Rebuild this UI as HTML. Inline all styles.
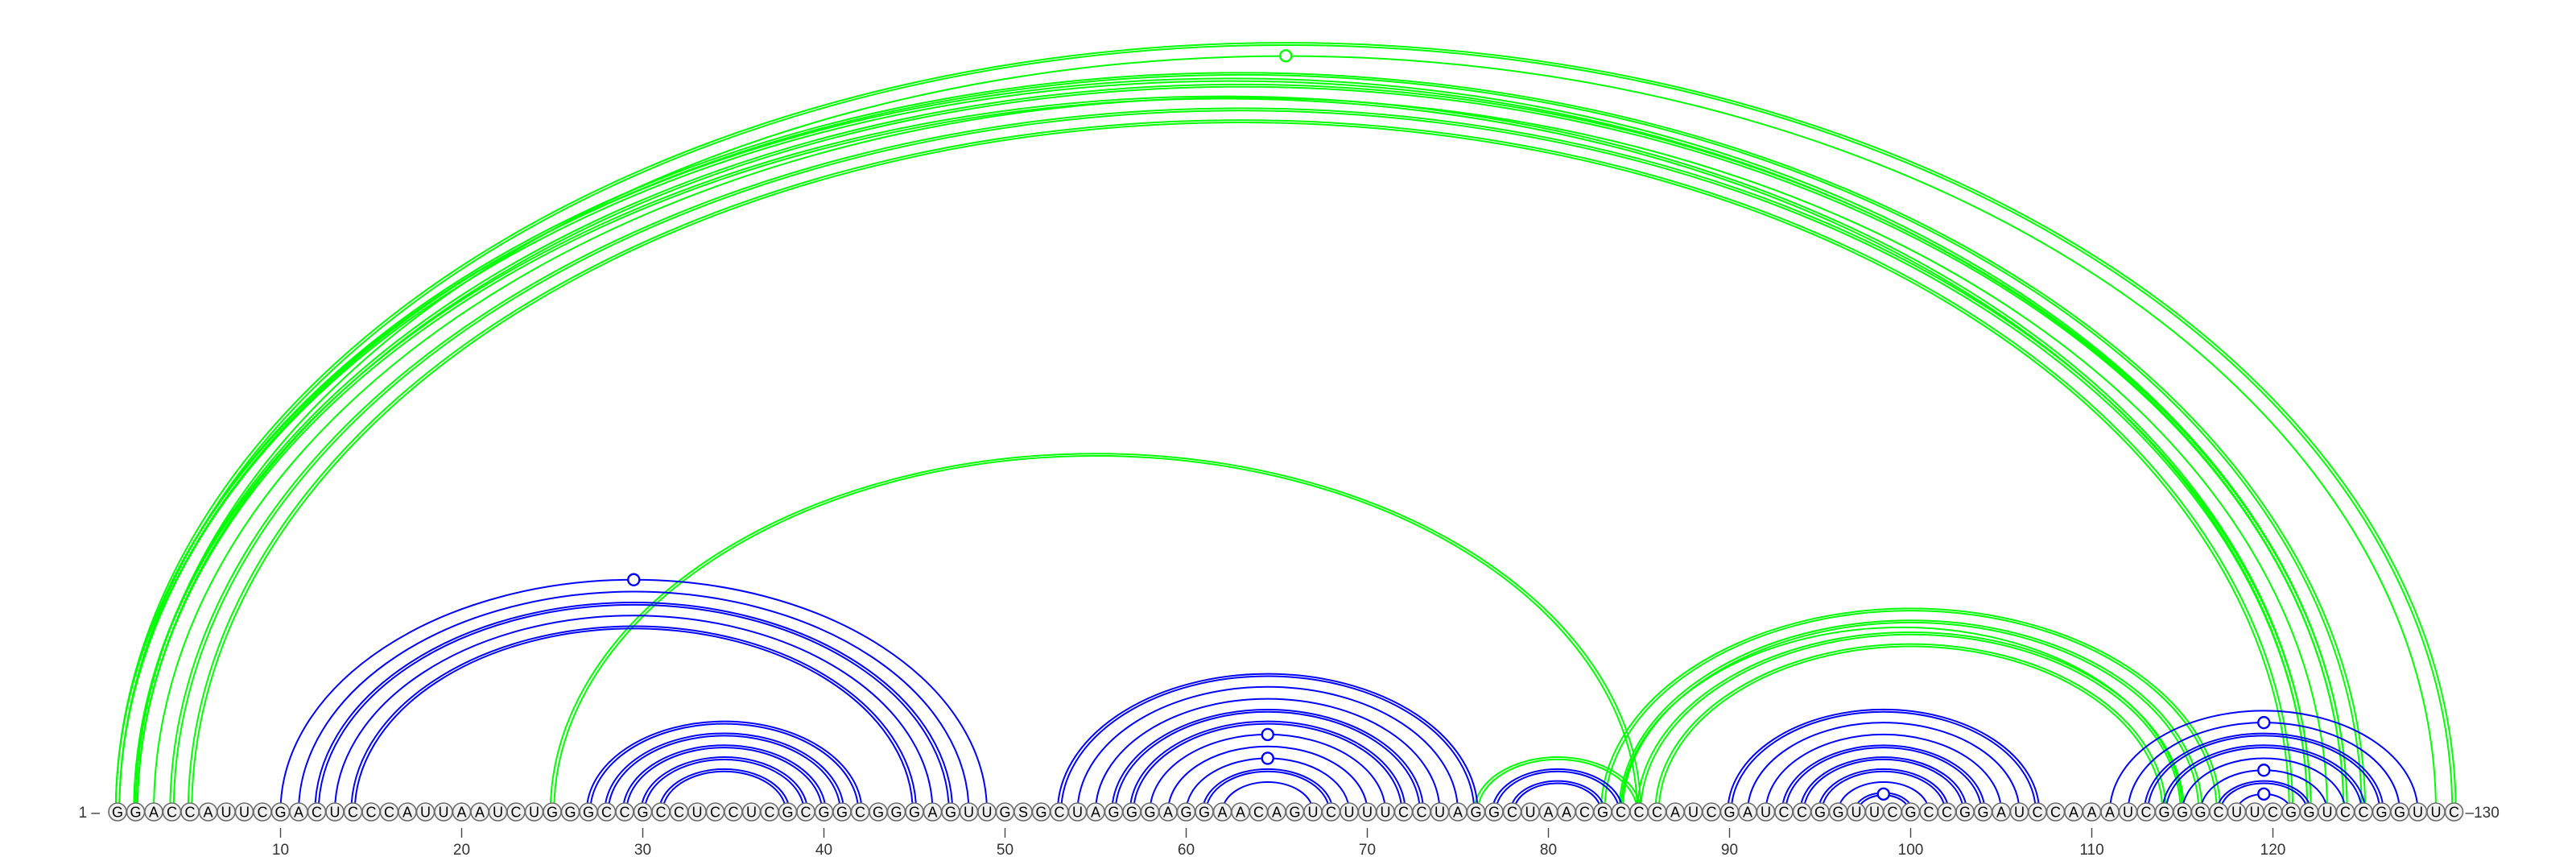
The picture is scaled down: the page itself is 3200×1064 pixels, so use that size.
<!DOCTYPE html>
<html><head><meta charset="utf-8"><style>
html,body{margin:0;padding:0;background:#fff;}
svg{display:block;}
</style></head><body>
<svg id="chart" width="3200" height="1064" viewBox="0 0 3200 1064" xmlns="http://www.w3.org/2000/svg">
<g id="arcs"></g>
<g id="nts"></g>
<g id="axis"></g>
</svg>
<script>
const sequence = "GGACCAUUCGACUCCCAUUAAUCUGGGCCGCCUCCUCGCGGCGGGAGUUGSGCUAGGGAGGAACAGUCUUUCCUAGGCUAACGCCCAUCGAUCCGGUUCGCCGGAUCCAAAUCGGGCUUCGGUCCGGUUC";
const blueI = [10,11,12,13,14, 27,28,29,30,31, 53,54,55,56,57,58,59,60,61,62, 77,78, 90,91,92,93,94,95,96,97, 111,112,113,114,115,116,117,118];
const blueJ = [49,48,47,46,45, 42,41,40,39,38, 76,75,74,73,72,71,70,69,68,67, 84,83, 107,106,105,104,103,102,101,100, 128,127,126,125,124,123,122,121];
const blueDouble = [0,0,1,0,1, 1,1,1,1,1, 1,0,0,1,1,0,0,0,1,0, 1,1, 1,0,0,1,1,1,0,1, 0,0,1,1,0,0,1,0];
const blueMarked = [1,0,0,0,0, 0,0,0,0,0, 0,0,0,0,0,1,0,1,0,0, 0,0, 0,0,0,0,0,0,0,1, 0,1,0,0,0,1,0,1];
const greenI = [1,2,1,2,3,4,5,1,2, 25, 76, 83,84,84,85,86];
const greenJ = [130,129,125,124,123,122,121,124,122, 85, 85, 117,116,115,115,114];
const greenDouble = [1,0,1,1,0,1,1,1,1, 1, 1, 1,1,0,1,1];
const greenMarked = [0,1,0,0,0,0,0,0,0, 0, 0, 0,0,0,0,0];
const tickValues = [10,20,30,40,50,60,70,80,90,100,110,120];

const NS="http://www.w3.org/2000/svg";
const baseY=1008, ratio=0.657;
function xPos(p){return 348.5+(p-10)*22.5;}
function mk(tag,attrs,parent){const e=document.createElementNS(NS,tag);for(const k in attrs)e.setAttribute(k,attrs[k]);parent.appendChild(e);return e;}
const arcs=document.getElementById('arcs'), nts=document.getElementById('nts'), axis=document.getElementById('axis');

function drawArc(i,j,color,dbl,marked,name){
  const x1=xPos(i), x2=xPos(j), cx=(x1+x2)/2, rx=(x2-x1)/2;
  const offs = dbl ? [-2.2,2.2] : [0];
  offs.forEach(o=>{
    const r=rx+o, ry=r*ratio;
    const p=mk('path',{d:`M${cx-r},${baseY} A${r},${ry} 0 0 1 ${cx+r},${baseY}`,fill:'none',stroke:color,'stroke-width':2},arcs);
    
    
  });
  if(marked){
    const c=mk('circle',{cx:cx,cy:baseY-rx*ratio,r:7,fill:'#fff',stroke:color,'stroke-width':2.4},arcs);
    
    
  }
}
for(let k=0;k<greenI.length;k++) drawArc(greenI[k],greenJ[k],'#00ff00',greenDouble[k],greenMarked[k],'green-arc-'+greenI[k]+'-'+greenJ[k]);
for(let k=0;k<blueI.length;k++) drawArc(blueI[k],blueJ[k],'#0000ff',blueDouble[k],blueMarked[k],'blue-arc-'+blueI[k]+'-'+blueJ[k]);

for(let p=1;p<=sequence.length;p++){
  const g=mk('g',{},nts);
  
  
  mk('circle',{cx:xPos(p),cy:baseY,r:11,fill:'#f0f0f0',stroke:'#6a6a6a','stroke-width':1.6},g);
  const t=mk('text',{x:xPos(p),y:baseY+6.5,'text-anchor':'middle','font-family':'Liberation Sans, DejaVu Sans, sans-serif','font-size':18,fill:'#000'},g);
  t.textContent=sequence[p-1];
}
const startLbl=mk('text',{x:xPos(1)-22,y:baseY+7,'text-anchor':'end','font-family':'Liberation Sans, sans-serif','font-size':19,fill:'#333'},axis);
startLbl.textContent='1 –';


const endLbl=mk('text',{x:xPos(sequence.length)+14,y:baseY+7,'text-anchor':'start','font-family':'Liberation Sans, sans-serif','font-size':19,fill:'#333'},axis);
endLbl.textContent='–130';


tickValues.forEach(v=>{
  const x=xPos(v);
  const l=mk('line',{x1:x,x2:x,y1:1028,y2:1040,stroke:'#444','stroke-width':1.4},axis);
  
  
  const t=mk('text',{x:x,y:1061,'text-anchor':'middle','font-family':'Liberation Sans, sans-serif','font-size':19,fill:'#333'},axis);
  t.textContent=v;
  
  
});
</script>
</body></html>
